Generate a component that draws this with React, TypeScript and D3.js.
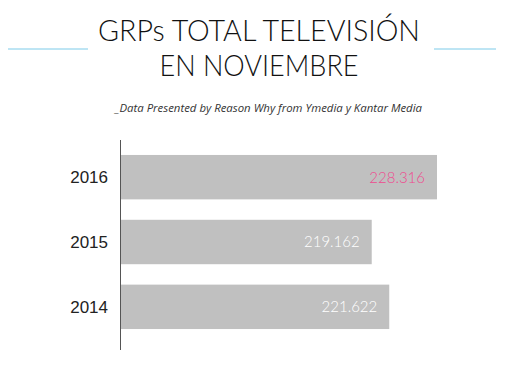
import React from "react";
import * as d3 from "d3";

const years = ["2016", "2015", "2014"];
const grps = [228.316, 219.162, 221.622];
const valueLabels = ["228.316", "219.162", "221.622"];
const labelColors = ["#ee4a8f", "#ffffff", "#ffffff"];
const titleLines = ["GRPs TOTAL TELEVISIÓN", "EN NOVIEMBRE"];
const subtitle = "_Data Presented by Reason Why from Ymedia y Kantar Media";
const xDomain = [184, 230];

export default function App() {
  const W = 507;
  const H = 372;
  const x = d3.scaleLinear().domain(xDomain).range([121, 449]);
  const y = d3
    .scaleBand()
    .domain(years)
    .range([142, 342])
    .paddingInner(0.315)
    .paddingOuter(0.2);

  return (
    <svg
      width={W}
      height={H}
      style={{ position: "absolute", left: 0, top: 0, background: "#fff" }}
    >
      <line x1={8} x2={88} y1={49} y2={49} stroke="#7ccbe9" strokeWidth={1} />
      <line x1={434} x2={496} y1={49} y2={49} stroke="#7ccbe9" strokeWidth={1} />
      {titleLines.map((t, i) => (
        <text
          key={t}
          x={259}
          y={41 + i * 35}
          textAnchor="middle"
          fontFamily="Lato, 'Noto Sans', sans-serif"
          fontWeight={300}
          fontSize={29}
          fill="#111"
          textLength={i === 0 ? 322 : 199}
          lengthAdjust="spacingAndGlyphs"
        >
          {t}
        </text>
      ))}
      <text
        x={422}
        y={112}
        textAnchor="end"
        fontFamily="'Open Sans', sans-serif"
        fontStyle="italic"
        fontSize={11}
        fill="#333"
        textLength={307}
        lengthAdjust="spacingAndGlyphs"
      >
        {subtitle}
      </text>

      {years.map((yr, i) => (
        <g key={yr}>
          <rect
            x={x(xDomain[0])}
            y={y(yr)}
            width={x(grps[i]) - x(xDomain[0])}
            height={y.bandwidth()}
            fill="#c0c0c0"
          />
          <text
            x={x(grps[i]) - 12}
            y={(y(yr) as number) + y.bandwidth() / 2}
            dy="0.36em"
            textAnchor="end"
            fontFamily="Lato, 'Liberation Sans', sans-serif"
            fontWeight={300}
            fontSize={15}
            fill={labelColors[i]}
          >
            {valueLabels[i]}
          </text>
          <text
            x={108}
            y={(y(yr) as number) + y.bandwidth() / 2}
            dy="0.36em"
            textAnchor="end"
            fontFamily="'Liberation Sans', Arial, sans-serif"
            fontSize={17}
            fill="#222"
          >
            {yr}
          </text>
        </g>
      ))}
      <line x1={120.5} x2={120.5} y1={140} y2={350} stroke="#555" strokeWidth={1} />
    </svg>
  );
}
